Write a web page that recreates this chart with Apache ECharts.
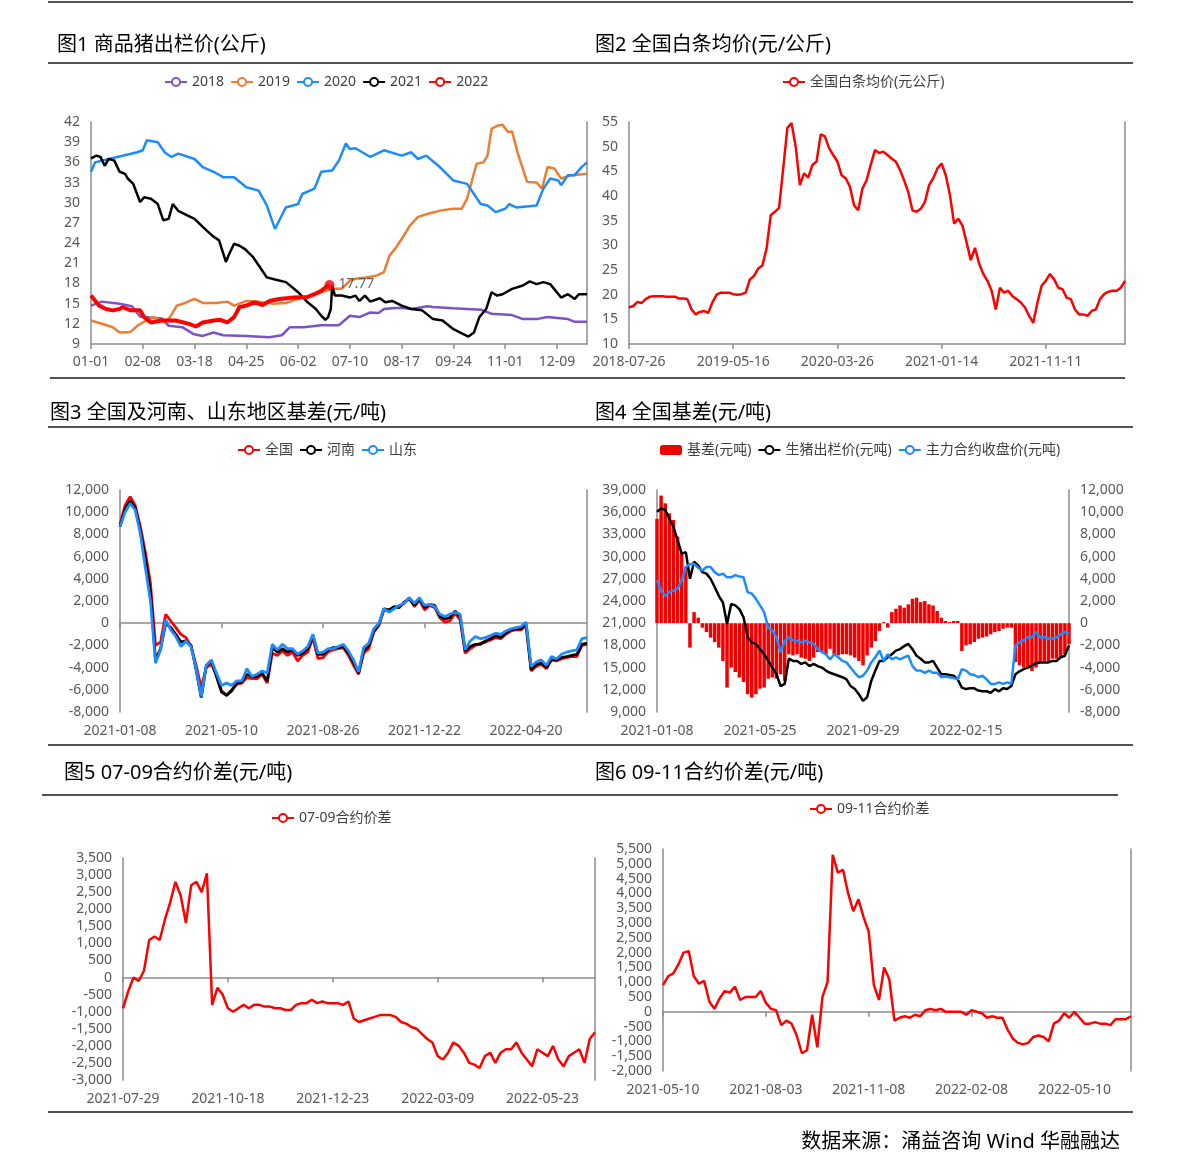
<!DOCTYPE html>
<html><head><meta charset="utf-8">
<script src="https://cdn.jsdelivr.net/npm/echarts@6/dist/echarts.min.js"></script>
<style>html,body{margin:0;padding:0;background:#fff}#c{width:1190px;height:1163px}</style>
</head><body><div id="c"></div>
<script>
// ---------- Panel 1: 商品猪出栏价 (day-of-year, value) ----------
const d2018 = [0,8,21,30,36,39,52,57,67,75,82,90,97,114,131,140,146,156,169,182,190,197,205,211,215,221,228,235,247,251,266,286,294,309,317,327,335,350,355,364];
const v2018 = [14.7,15.3,15.0,14.6,13.1,13.0,12.8,11.7,11.5,10.5,10.2,10.7,10.3,10.2,10.0,10.3,11.5,11.5,11.8,11.8,13.2,13.0,13.7,13.6,14.2,14.3,14.4,14.2,14.6,14.5,14.3,14.1,13.5,13.3,12.7,12.7,13.0,12.7,12.3,12.3];
const d2019 = [0,8,16,21,29,34,38,46,54,58,63,69,76,82,92,100,105,114,123,133,143,152,161,172,179,184,190,194,202,210,215,219,223,228,234,240,248,258,266,272,276,280,283,288,291,294,299,302,306,309,313,320,327,331,335,340,345,353,364];
const v2019 = [12.5,12.0,11.5,10.7,10.8,11.7,12.2,13.0,12.2,13.0,14.7,15.1,15.7,15.1,15.1,15.3,14.7,15.4,15.3,15.0,15.1,15.7,16.2,16.9,17.2,17.2,18.4,18.7,18.9,19.2,19.7,22.1,23.1,24.6,26.6,27.9,28.4,28.9,29.1,29.1,30.6,33.6,35.8,36.0,37.0,41.0,41.5,41.6,40.5,40.6,37.5,33.1,33.0,32.1,35.3,35.1,33.6,34.1,34.3];
const d2020 = [0,3,13,34,38,41,49,54,59,64,76,82,90,97,105,114,123,129,135,140,143,152,155,164,169,177,182,187,190,194,205,215,228,235,240,246,256,266,276,286,291,297,304,307,312,327,332,337,343,345,350,355,360,364];
const v2020 = [34.6,36.0,36.5,37.5,37.8,39.3,39.0,37.5,36.8,37.3,36.5,35.3,34.6,33.8,33.8,32.3,31.8,29.6,26.1,28.1,29.3,29.8,31.3,32.1,34.6,34.8,36.3,38.8,38.0,38.1,36.8,37.8,37.0,37.5,36.5,37.0,35.3,33.3,32.8,29.8,29.6,28.6,29.1,29.8,29.3,29.6,32.1,33.6,33.3,32.6,34.1,34.1,35.3,36.0];
const d2021 = [0,4,7,10,13,17,21,25,27,31,36,39,44,49,53,57,60,64,71,76,82,89,94,99,101,105,109,113,119,124,129,135,143,149,152,159,165,169,172,174,176,177,179,184,190,194,197,201,205,212,216,221,228,235,243,251,258,266,271,277,281,285,290,294,298,302,309,317,322,327,332,337,345,350,355,358,364];
const v2021 = [36.6,37.0,36.8,35.5,36.5,36.3,34.6,34.3,33.6,32.8,30.1,30.8,30.6,29.8,27.4,27.6,29.8,28.8,28.1,27.6,26.4,25.1,24.4,21.2,22.2,23.9,23.6,23.1,21.9,20.4,18.9,18.6,18.2,17.2,16.7,15.2,14.2,13.2,12.6,13.0,14.2,17.7,16.2,16.2,15.9,16.2,15.4,16.2,15.3,15.8,15.2,15.4,14.7,14.2,14.0,12.7,12.5,11.2,10.7,10.1,10.7,13.0,14.2,16.7,16.2,16.4,17.2,17.7,18.3,17.9,18.2,17.9,15.9,16.4,15.7,16.4,16.4];
const d2022 = [0,2,6,11,16,21,23,29,36,39,44,52,62,72,77,82,90,95,100,105,109,114,120,126,131,138,149,159,164,169,172,175];
const v2022 = [16.2,15.7,14.7,14.2,14.0,14.2,14.5,14.0,14.0,13.0,12.2,12.5,12.5,12.0,11.6,12.2,12.5,12.6,12.2,13.0,14.5,14.7,15.2,14.8,15.4,15.7,15.9,16.0,16.4,16.9,17.4,17.77];

// ---------- Panel 2: 全国白条均价 ----------
const ticks2 = ['2018-07-26','2019-05-16','2020-03-26','2021-01-14','2021-11-11'];
const baitiao = [17.4,17.7,18.5,18.3,19.1,19.6,19.7,19.7,19.7,19.6,
 19.6,19.6,19.2,19.2,19.1,17.0,16.0,16.5,16.7,16.3,
 18.4,20.0,20.4,20.4,20.4,20.1,20.0,20.1,20.4,23.1,
 23.8,25.3,25.9,29.3,36.1,36.8,37.6,45.6,53.8,54.8,
 50.0,42.2,44.6,43.7,46.3,47.0,52.5,52.1,49.7,48.3,
 47.0,44.2,43.6,41.9,38.1,37.1,41.5,43.2,46.3,49.3,
 48.7,49.0,48.3,47.6,47.0,45.3,43.2,40.8,37.1,36.8,
 37.4,38.8,42.2,43.6,45.6,46.6,44.2,40.2,34.4,35.4,
 34.0,30.6,27.0,29.5,26.3,24.2,22.8,20.8,17.0,21.4,
 20.4,20.8,19.7,19.1,18.4,17.4,15.7,14.3,18.4,21.8,
 22.8,24.2,23.1,21.4,21.1,19.4,19.1,17.0,16.0,16.0,
 15.7,16.7,17.0,19.1,20.1,20.6,20.8,20.8,21.4,22.8];

// ---------- Panel 3: 全国/河南/山东 基差 ----------
const ticks3 = ['2021-01-08','2021-05-10','2021-08-26','2021-12-22','2022-04-20'];
const quanguo = [8900,10600,11400,10600,8700,6400,3600,-2000,-1700,800,
 200,-400,-1000,-1300,-2100,-3800,-5800,-4000,-3700,-4600,
 -6100,-6500,-6000,-5500,-5400,-4900,-5000,-5000,-4600,-5400,
 -2700,-2900,-2500,-2900,-2600,-3400,-2900,-2600,-1300,-3200,
 -3100,-2600,-2400,-2300,-2200,-2900,-3800,-4600,-2700,-2300,
 -800,-200,1200,1100,1400,1500,1800,2300,1500,2100,
 1200,1600,1400,500,100,200,900,300,-2700,-2300,
 -2000,-1800,-1700,-1500,-1300,-1400,-1000,-700,-600,-600,
 -200,-4300,-3900,-3700,-4100,-3300,-3400,-3200,-3100,-3000,
 -3000,-2000,-1900];
const henan = [8700,10300,11000,10400,8400,5800,2800,-3300,-2300,0,
 -400,-1000,-1700,-1600,-2000,-4200,-6700,-3800,-3400,-4800,
 -6200,-6500,-6100,-5400,-5300,-4600,-4800,-4800,-4500,-5200,
 -2200,-2600,-2300,-2600,-2400,-2900,-2700,-2300,-1100,-2800,
 -2800,-2400,-2200,-2200,-2100,-2700,-3500,-4500,-2500,-2000,
 -700,-100,1300,1200,1500,1400,1900,2200,1600,2200,
 1400,1700,1600,600,400,500,1100,600,-2500,-2100,
 -1900,-1900,-1600,-1400,-1100,-1300,-900,-600,-500,-500,
 -100,-4200,-3700,-3600,-4000,-3300,-3300,-3100,-3000,-2900,
 -2800,-1900,-1800];
const shandong = [8700,10000,10800,10200,8100,5000,2000,-3600,-2400,300,
 -600,-1200,-2100,-1600,-2100,-4100,-6600,-3800,-3300,-4500,
 -5600,-5400,-5600,-5200,-5200,-4100,-4800,-4600,-4300,-4500,
 -1900,-2400,-1900,-2300,-2300,-2800,-2500,-2100,-1000,-2700,
 -2600,-2300,-2300,-2100,-1900,-2500,-3300,-4400,-2200,-1800,
 -500,0,1300,1000,1300,1600,1800,2300,1800,2300,
 1600,1700,1500,800,600,800,1000,800,-2400,-1600,
 -1200,-1400,-1300,-1100,-900,-1000,-700,-500,-400,-300,
 100,-3900,-3500,-3300,-3800,-3000,-3200,-2800,-2600,-2500,
 -2400,-1400,-1300];

// ---------- Panel 4: 全国基差 ----------
const ticks4 = ['2021-01-08','2021-05-25','2021-09-29','2022-02-15'];
const spot = [36050,36500,36300,35150,34000,32200,30400,30600,27000,29300,
 28800,27900,27700,27000,25900,24700,23800,20900,23600,23400,
 22900,21800,19100,18400,18200,17500,16800,15900,15000,14100,
 12500,12800,16200,15900,15900,15500,15700,15200,15500,15200,
 15000,14600,14300,14100,13900,13700,13400,12500,12100,11400,
 10500,11000,13200,14600,15900,15900,16400,16800,17300,17500,
 17900,18200,17500,16600,16200,15700,15700,15900,15000,14100,
 14100,14000,13900,13400,12300,12100,12200,12200,11900,11800,
 11800,11600,12100,11800,12200,12100,12500,14100,14500,14800,
 15000,15300,15600,15700,15700,15700,15900,15900,16400,16600,
 18000];
const futures = [26800,25400,24700,25200,25400,25700,26800,28600,29000,29000,
 28500,28100,28600,28600,27900,27500,27700,27200,27200,27500,
 27300,27200,25200,25000,24300,23400,22500,20400,20000,19100,
 17100,18600,19100,18700,18600,18400,18600,18400,18200,17500,
 17100,16800,16100,16800,16400,15900,15700,15000,14300,13700,
 13900,14600,15700,16400,17300,15900,16800,16100,16400,16100,
 16400,16600,15200,14600,14600,14300,14600,14300,14300,13700,
 13800,13700,13600,13400,14800,14600,14100,14000,13700,13900,
 13400,12800,12800,13000,12800,13000,12800,18000,18400,18700,
 19100,19100,19800,19100,19100,18900,18900,19100,19500,19800,
 19600];
const basis = [9400,11500,10800,9900,9300,7800,6400,5100,-2200,1000,
 500,-400,-800,-1300,-1700,-2200,-3400,-5800,-4000,-4400,
 -4900,-5300,-6400,-6700,-6400,-5900,-5800,-5000,-4900,-5000,
 -4600,-5200,-2800,-2900,-2800,-3100,-3200,-3400,-3100,-2600,
 -2600,-2800,-2300,-2800,-2900,-2800,-2800,-2900,-3100,-3400,
 -3800,-2900,-2200,-1600,-700,100,-400,1000,1300,1600,
 1400,1700,2200,2300,1900,2000,1700,1600,1100,500,
 200,100,200,200,-2500,-2000,-1900,-1700,-1400,-1300,
 -1200,-1000,-800,-700,-500,-400,-400,-3500,-3800,-4000,
 -4100,-4300,-4000,-3500,-3400,-3400,-3200,-3200,-3100,-2800,
 -1900];

// ---------- Panel 5: 07-09合约价差 ----------
const ticks5 = ['2021-07-29','2021-10-18','2021-12-23','2022-03-09','2022-05-23'];
const spread79 = [-900,-400,0,-100,200,1100,1200,1100,1700,2200,
 2800,2400,1600,2700,2800,2500,3050,-800,-300,-500,
 -900,-1000,-900,-800,-900,-800,-800,-850,-850,-900,
 -900,-950,-950,-800,-750,-750,-650,-750,-700,-750,
 -750,-750,-800,-700,-1200,-1300,-1250,-1200,-1150,-1100,
 -1100,-1100,-1150,-1300,-1350,-1450,-1500,-1650,-1800,-1900,
 -2300,-2400,-2200,-1900,-2000,-2200,-2500,-2550,-2650,-2300,
 -2200,-2500,-2200,-2100,-2100,-1900,-2200,-2400,-2600,-2100,
 -2200,-2300,-2000,-2400,-2600,-2300,-2200,-2100,-2500,-1800,
 -1600];

// ---------- Panel 6: 09-11合约价差 ----------
const ticks6 = ['2021-05-10','2021-08-03','2021-11-08','2022-02-08','2022-05-10'];
const spread911 = [900,1200,1300,1600,2000,2050,1200,950,1050,350,
 100,450,700,650,850,400,500,500,500,700,
 300,100,50,-450,-300,-400,-800,-1400,-1300,-100,
 -1200,500,1000,5300,4700,4800,4000,3400,3800,3200,
 2700,900,400,1500,1100,-300,-200,-150,-200,-100,
 -150,50,100,50,100,0,0,0,0,-100,
 50,0,-50,-200,-150,-200,-200,-600,-900,-1050,
 -1100,-1050,-850,-800,-850,-1000,-400,-300,-50,-200,
 0,-200,-400,-400,-350,-400,-400,-450,-250,-250,
 -250,-150];

// ---------- helpers ----------
const FONT = '"Noto Sans","Noto Sans CJK SC",sans-serif';
const AX = '#8c8c8c', LBL = '#595959';
const C = {purple:'#7B52C8', orange:'#ED7D31', blue:'#1A8CFF', black:'#000000', red:'#FF0000'};
function pairs(d, v){ return d.map((x,i)=>[x, v[i]]); }
function mmdd(day){ const dt=new Date(Date.UTC(2021,0,1+day)); return String(dt.getUTCMonth()+1).padStart(2,'0')+'-'+String(dt.getUTCDate()).padStart(2,'0'); }
function makeCats(ticks, step, n){
  const t = ticks.map(s=>Date.parse(s)); const out=[];
  for(let i=0;i<n;i++){
    const k=Math.min(Math.floor(i/step), t.length-2);
    const f=(i-k*step)/step;
    out.push(new Date(t[k]+(t[k+1]-t[k])*f).toISOString().slice(0,10));
  }
  return out;
}
const cats2 = makeCats(ticks2, 25, baitiao.length);
const cats3 = makeCats(ticks3, 20, quanguo.length);
const cats4 = makeCats(ticks4, 25, spot.length);
const cats5 = makeCats(ticks5, 20, spread79.length);
const cats6 = makeCats(ticks6, 20, spread911.length);
const every = (s, n) => (idx)=> idx % s === 0 && idx < n - 1;
const lblStyle = {color:LBL, fontSize:14, fontFamily:FONT};
const yLblStyle = {color:LBL, fontSize:14, fontFamily:FONT, padding:[4,0,0,0]};
const axLine = {show:true, onZero:false, lineStyle:{color:AX, width:1.5}};
const comma = v => Number(v).toLocaleString('en-US');

function labelX(grid, data, step, withLine, margin){
  const iv = every(step, data.length);
  return {gridIndex:grid, type:'category', data:data, boundaryGap:false, position:'bottom',
    axisLine: withLine ? axLine : {show:false, onZero:false},
    axisTick: withLine ? {show:true, interval:iv, length:5, lineStyle:{color:AX, width:1.5}} : {show:false},
    axisLabel: Object.assign({interval:iv, margin:margin}, lblStyle),
    splitLine:{show:false}};
}
function zeroX(grid, data, step){
  const iv = every(step, data.length);
  return {gridIndex:grid, type:'category', data:data, boundaryGap:false, position:'top',
    axisLine:{show:true, onZero:true, lineStyle:{color:AX, width:1.5}},
    axisTick:{show:true, inside:true, interval:iv, length:5, lineStyle:{color:AX, width:1.5}},
    axisLabel:{show:false}, splitLine:{show:false}};
}
function leftY(grid, min, max, iv, fmt){
  return {gridIndex:grid, type:'value', position:'left', min:min, max:max, interval:iv,
    axisLine:axLine, axisTick:{show:false}, splitLine:{show:false},
    axisLabel:Object.assign({margin:11, formatter:fmt||(v=>v)}, yLblStyle)};
}
function rightY(grid, min, max, iv, showLbl, fmt){
  return {gridIndex:grid, type:'value', position:'right', min:min, max:max, interval:iv,
    axisLine:axLine, axisTick:{show:false}, splitLine:{show:false},
    axisLabel:Object.assign({show:!!showLbl, margin:11, formatter:fmt||(v=>v)}, yLblStyle)};
}
function lineS(name, xi, yi, data, color, w){
  return {name:name, type:'line', xAxisIndex:xi, yAxisIndex:yi, data:data,
    showSymbol:false, symbol:'emptyCircle', symbolSize:7, smooth:false,
    lineStyle:{color:color, width:w||2.5}, itemStyle:{color:color, borderWidth:2}};
}

const legendBase = {orient:'horizontal', itemWidth:22, itemHeight:10, itemGap:6, padding:0,
  textStyle:{color:'#404040', fontSize:14, fontFamily:FONT}};

const titles = [
  ['图1 商品猪出栏价(公斤)', 57, 45],
  ['图2 全国白条均价(元/公斤)', 595, 45],
  ['图3 全国及河南、山东地区基差(元/吨)', 50, 413],
  ['图4 全国基差(元/吨)', 595, 413],
  ['图5 07-09合约价差(元/吨)', 64, 773],
  ['图6 09-11合约价差(元/吨)', 595, 773]
];
const rules = [[48,1133,2],[48,1133,63],[50,1125,378],[48,1133,427],[48,1133,745],[42,1118,795],[48,1133,1112]];

const graphic = [];
titles.forEach(t=>graphic.push({type:'text', x:t[1], y:t[2],
  style:{text:t[0], fill:'#000', fontSize:20, fontFamily:FONT, align:'left', verticalAlign:'middle', textVerticalAlign:'middle'}}));
graphic.push({type:'text', x:1120, y:1142, style:{text:'数据来源：涌益咨询 Wind 华融融达', fill:'#000', fontSize:20, fontFamily:FONT,
  align:'right', textAlign:'right', verticalAlign:'middle', textVerticalAlign:'middle'}});
rules.forEach(r=>graphic.push({type:'line', shape:{x1:r[0], y1:r[2], x2:r[1], y2:r[2]}, style:{stroke:'#1a1a1a', lineWidth:1.5}}));

const gridBase = {outerBoundsMode:'none', containLabel:false};
const option = {
  animation:false,
  backgroundColor:'#fff',
  textStyle:{fontFamily:FONT},
  graphic:graphic,
  grid:[
    Object.assign({left:91, top:122, width:496, height:222}, gridBase),
    Object.assign({left:629, top:122, width:496, height:222}, gridBase),
    Object.assign({left:120, top:490, width:467, height:222}, gridBase),
    Object.assign({left:657, top:490, width:412, height:222}, gridBase),
    Object.assign({left:123, top:858, width:472, height:222}, gridBase),
    Object.assign({left:663, top:849, width:468, height:222}, gridBase)
  ],
  legend:[
    Object.assign({}, legendBase, {data:['2018','2019','2020','2021','2022'], left:164, top:75}),
    Object.assign({}, legendBase, {data:['全国白条均价(元公斤)'], left:782, top:75}),
    Object.assign({}, legendBase, {data:['全国','河南','山东'], left:237, top:443}),
    Object.assign({}, legendBase, {data:['基差(元吨)','生猪出栏价(元吨)','主力合约收盘价(元吨)'], left:660, top:443}),
    Object.assign({}, legendBase, {data:['07-09合约价差'], left:271, top:811}),
    Object.assign({}, legendBase, {data:['09-11合约价差'], left:809, top:802})
  ],
  xAxis:[
    {gridIndex:0, type:'value', min:0, max:364, interval:38,
     axisLine:axLine, axisTick:{show:true, length:5, lineStyle:{color:AX, width:1.5}},
     axisLabel:Object.assign({formatter:mmdd, showMaxLabel:false, margin:11}, lblStyle), splitLine:{show:false}},
    labelX(1, cats2, 25, true, 11),
    labelX(2, cats3, 20, false, 12),
    zeroX(2, cats3, 20),
    labelX(3, cats4, 25, false, 12),
    labelX(4, cats5, 20, false, 12),
    zeroX(4, cats5, 20),
    labelX(5, cats6, 20, false, 12),
    zeroX(5, cats6, 20)
  ],
  yAxis:[
    leftY(0, 9, 42, 3), rightY(0, 9, 42, 3),
    leftY(1, 10, 55, 5), rightY(1, 10, 55, 5),
    leftY(2, -8000, 12000, 2000, comma), rightY(2, -8000, 12000, 2000),
    leftY(3, 9000, 39000, 3000, comma), rightY(3, -8000, 12000, 2000, true, comma),
    leftY(4, -3000, 3500, 500, comma), rightY(4, -3000, 3500, 500),
    leftY(5, -2000, 5500, 500, comma), rightY(5, -2000, 5500, 500)
  ],
  series:[
    lineS('2018', 0, 0, pairs(d2018, v2018), C.purple),
    lineS('2019', 0, 0, pairs(d2019, v2019), C.orange),
    lineS('2020', 0, 0, pairs(d2020, v2020), C.blue),
    lineS('2021', 0, 0, pairs(d2021, v2021), C.black),
    lineS('2022', 0, 0, pairs(d2022, v2022), C.red, 4),
    {name:'2022末值', type:'scatter', xAxisIndex:0, yAxisIndex:0, symbol:'circle', symbolSize:10,
     data:[[d2022[d2022.length-1], v2022[v2022.length-1]]], itemStyle:{color:C.red}, z:5,
     label:{show:true, position:'right', distance:4, offset:[0,-1], formatter:p=>String(p.value[1]), color:'#404040', fontSize:14, fontFamily:FONT}},
    lineS('全国白条均价(元公斤)', 1, 2, baitiao, C.red, 2.5),
    lineS('全国', 2, 4, quanguo, C.red, 2.8),
    lineS('河南', 2, 4, henan, C.black, 2.8),
    lineS('山东', 2, 4, shandong, C.blue, 2.8),
    {name:'基差(元吨)', type:'bar', xAxisIndex:4, yAxisIndex:7, data:basis, barCategoryGap:'15%',
     itemStyle:{color:'#F20000'}},
    lineS('生猪出栏价(元吨)', 4, 6, spot, C.black, 2.5),
    lineS('主力合约收盘价(元吨)', 4, 6, futures, C.blue, 2.5),
    lineS('07-09合约价差', 5, 8, spread79, C.red, 2.5),
    lineS('09-11合约价差', 7, 10, spread911, C.red, 2.5)
  ]
};
const chart = echarts.init(document.getElementById('c'), null, {renderer:'canvas'});
chart.setOption(option);
</script></body></html>
